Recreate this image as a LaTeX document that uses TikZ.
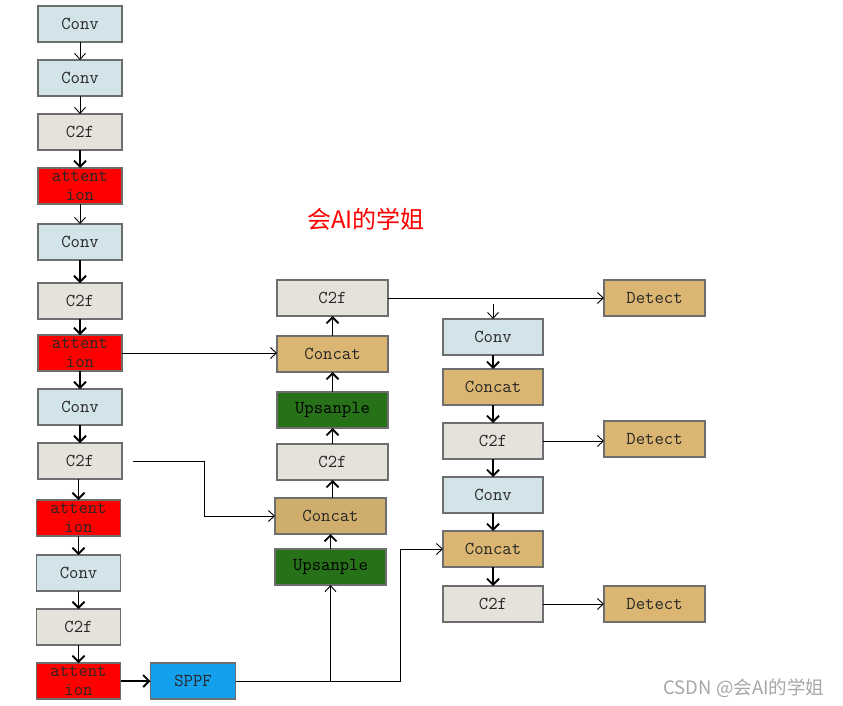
\documentclass[tikz,border=0pt]{standalone}
\usepackage{fontspec}
\newfontfamily\cjk{Noto Sans CJK SC}
\usepackage{xcolor}
\usetikzlibrary{positioning,arrows.meta}

\definecolor{boxgray}{HTML}{6E6E6E}
\definecolor{convblue}{HTML}{D2E3EA}
\definecolor{ctwofgray}{HTML}{E5E1DB}
\definecolor{catsand}{HTML}{DAB672}
\definecolor{upgreen}{HTML}{277119}
\definecolor{sppfblue}{HTML}{13A1EE}

\begin{document}
\begin{tikzpicture}[
    x=1pt, y=1pt,
    node distance=18pt,
    block/.style={rectangle, draw=boxgray, line width=1.2pt, text=black!85, align=center,
        font=\ttfamily\fontsize{18.2}{19}\selectfont, minimum width=84pt, minimum height=36pt,
        inner sep=0pt, outer sep=0pt},
    convbox/.style={block, fill=convblue},
    c2fbox/.style={block, fill=ctwofgray},
    attbox/.style={block, fill=red},
    catbox/.style={block, fill=catsand},
    upbox/.style={block, fill=upgreen, text=black},
    sppfbox/.style={block, fill=sppfblue, minimum width=85pt},
    detbox/.style={block, fill=catsand, minimum width=101pt},
    line/.style={draw, line width=0.9pt, -{Straight Barb[length=6pt,width=11pt,line width=0.9pt]}},
    bold line/.style={draw, line width=1.8pt, -{Straight Barb[length=6pt,width=12pt,line width=1.8pt]}}
]
    \useasboundingbox (0,0) rectangle (843,-706);

    % backbone
    \node [convbox] (c1) at (80,-24) {Conv};
    \node [convbox, below=of c1] (c2) {Conv};
    \node [c2fbox, below=of c2] (c3) {C2f};
    \node [attbox, below=of c3] (a1) {attent\\ion};
    \node [convbox, below=20pt of a1] (c5) {Conv};
    \node [c2fbox, below=23pt of c5] (c6) {C2f};
    \node [attbox, below=16pt of c6] (a2) {attent\\ion};
    \node [convbox, below=of a2] (c8) {Conv};
    \node [c2fbox, below=18pt of c8] (c9) {C2f};
    \node [attbox, below=21pt of c9, xshift=-1.5pt] (a3) {attent\\ion};
    \node [convbox, below=19pt of a3] (c11) {Conv};
    \node [c2fbox, below=of c11] (c12) {C2f};
    \node [attbox, below=of c12] (a4) {attent\\ion};
    \node [sppfbox, right=30pt of a4] (sppf) {SPPF};

    % head, upward path
    \node [c2fbox, minimum width=111pt] (m1) at (332.5,-298) {C2f};
    \node [catbox, minimum width=111pt, below=20pt of m1] (m2) {Concat};
    \node [upbox, minimum width=111pt, below=20pt of m2] (m3) {Upsanple};
    \node [c2fbox, minimum width=111pt, below=16pt of m3] (m4) {C2f};
    \node [catbox, minimum width=111pt, below=of m4, xshift=-2pt, fill=catsand!95!black] (m5) {Concat};
    \node [upbox, minimum width=111pt, below=15pt of m5] (m6) {Upsanple};

    % head, downward path
    \node [convbox, minimum width=100pt] (r1) at (493,-337) {Conv};
    \node [catbox, minimum width=100pt, below=14pt of r1] (r2) {Concat};
    \node [c2fbox, minimum width=100pt, below=of r2] (r3) {C2f};
    \node [convbox, minimum width=100pt, below=of r3] (r4) {Conv};
    \node [catbox, minimum width=100pt, below=of r4] (r5) {Concat};
    \node [c2fbox, minimum width=100pt, below=19pt of r5] (r6) {C2f};

    \node [detbox] (d1) at (654.5,-298) {Detect};
    \node [detbox] (d2) at (654.5,-439) {Detect};
    \node [detbox] (d3) at (654.5,-604) {Detect};

    \coordinate (tap) at ([yshift=15pt]r1.north);
    \path (sppf.east) ++(165,0) coordinate (split);

    \node [text=red, font=\cjk\fontsize{24}{28}\selectfont] (wm) at (366,-219) {会AI的学姐};
    \node [text=black!35, font=\cjk\fontsize{18.5}{22}\selectfont] (csdn) at (744,-688) {CSDN @会AI的学姐};

    % backbone links
    \path [line] (c1) -- (c2);
    \path [line] (c2) -- (c3);
    \path [bold line] (c3) -- (a1);
    \path [line] (a1) -- (c5);
    \path [bold line] (c5) -- (c6);
    \path [bold line] (c6) -- (a2);
    \path [bold line] (a2) -- (c8);
    \path [bold line] (c8) -- (c9);
    \path [bold line] (c9.south -| a3) -- (a3);
    \path [bold line] (a3) -- (c11);
    \path [bold line] (c11) -- (c12);
    \path [bold line] (c12) -- (a4);
    \path [bold line] (a4) -- (sppf);

    % skip links
    \path [line] (a2.east) -- (a2.east -| m2.west);
    \path [line, shorten <=11pt] (c9.east) -- ++(82,0) |- (m5.west);
    \path [line] (sppf.east) -| (m6.south);
    \path [line] (sppf.east) -- (split) |- (r5.west);

    % upward links
    \path [bold line] (m6) -- (m5);
    \path [bold line] (m5.north -| m4) -- (m4);
    \path [bold line] (m4) -- (m3);
    \path [bold line] (m3) -- (m2);
    \path [bold line] (m2) -- (m1);

    % downward links
    \path [line] (m1) -- (d1);
    \path [line] (tap) -- (r1);
    \path [bold line] (r1) -- (r2);
    \path [bold line] (r2) -- (r3);
    \path [bold line] (r3) -- (r4);
    \path [bold line] (r4) -- (r5);
    \path [bold line] (r5) -- (r6);
    \path [line] (r3) -- (r3 -| d2.west);
    \path [line] (r6) -- (r6 -| d3.west);
\end{tikzpicture}
\end{document}
